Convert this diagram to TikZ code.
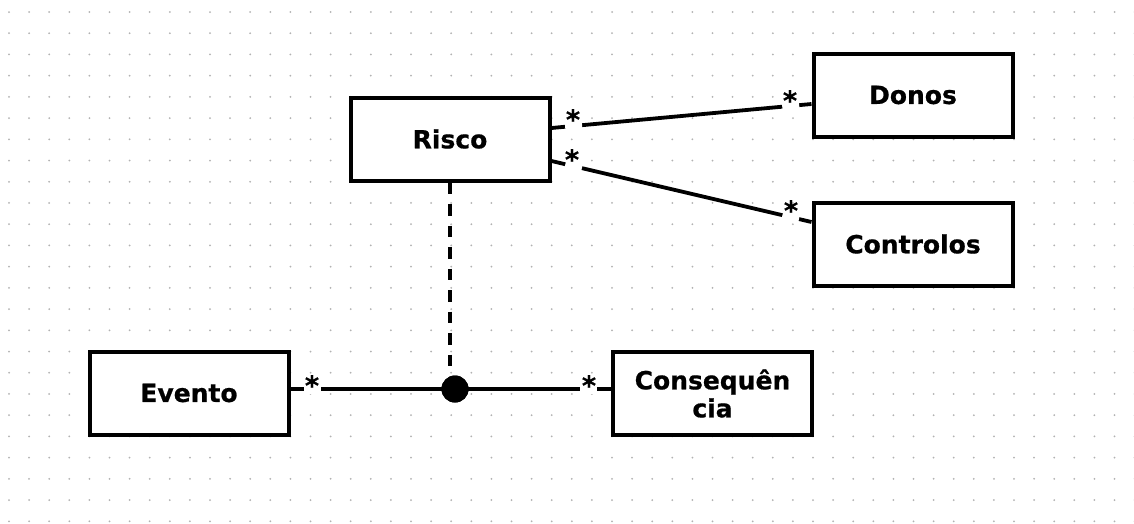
\documentclass[tikz,border=0pt]{standalone}
\usepackage{fontspec}
\setmainfont{DejaVu Sans}[BoldFeatures={FakeBold=0.7}]
\begin{document}
\begin{tikzpicture}[x=1pt,y=-1pt,
  cls/.style={draw=black, fill=white, line width=4pt, minimum width=199pt,
    minimum height=83pt, align=center, font=\fontsize{25}{28}\selectfont\bfseries},
  assoc/.style={line width=3.8pt},
  gap/.style={fill=white, inner sep=0pt, minimum width=17pt, minimum height=9pt, sloped},
  mult/.style={inner sep=0pt, anchor=north, font=\fontsize{27}{27}\selectfont\bfseries},
  hub/.style={circle, fill=black, inner sep=0pt, minimum size=27pt}]
  \useasboundingbox (0,0) rectangle (1134,523);
  \fill[white] (0,0) rectangle (1134,523);
  % dotted background grid
  \foreach \i in {0,...,56}
    \foreach \j in {0,...,24}
      \fill[black!30] (9+20.1*\i, 12+21.22*\j) circle (1pt);

  % classes
  \node[cls] (risco) at (450,139) {Risco};
  \node[cls] (donos) at (913,95) {Donos};
  \node[cls] (controlos) at (913,244) {Controlos};
  \node[cls] (evento) at (189,393) {Evento};
  \node[cls] (conseq) at (712.5,393.5) {Consequên\\cia};
  \node[hub] (hub) at (455,389) {};

  % associations, broken under the multiplicity marks
  \draw[assoc] ([yshift=11pt]risco.east) -- ([yshift=-9pt]donos.west)
    node[gap, pos=0.085] (g1) {} node[gap, pos=0.92] (g2) {};
  \draw[assoc] ([yshift=-22pt]risco.east) -- ([yshift=22pt]controlos.west)
    node[gap, pos=0.085] (g3) {} node[gap, pos=0.92] (g4) {};
  \draw[assoc] (evento.east |- hub.center) -- (hub.center)
    node[gap, pos=0.135] (g5) {};
  \draw[assoc] (hub.center) -- (conseq.west |- hub.center)
    node[gap, pos=0.855] (g6) {};
  \draw[line width=4pt, dash pattern=on 11.5pt off 10pt] (risco.south) -- (risco.south |- hub.north);
  \node[hub] at (hub) {};

  % multiplicities
  \node[mult] (m1) at (573,109) {*};
  \node[mult] (m2) at (790,90) {*};
  \node[mult] (m3) at (572,149) {*};
  \node[mult] (m4) at (791,200) {*};
  \node[mult] (m5) at (312,375) {*};
  \node[mult] (m6) at (589,375) {*};
\end{tikzpicture}
\end{document}
